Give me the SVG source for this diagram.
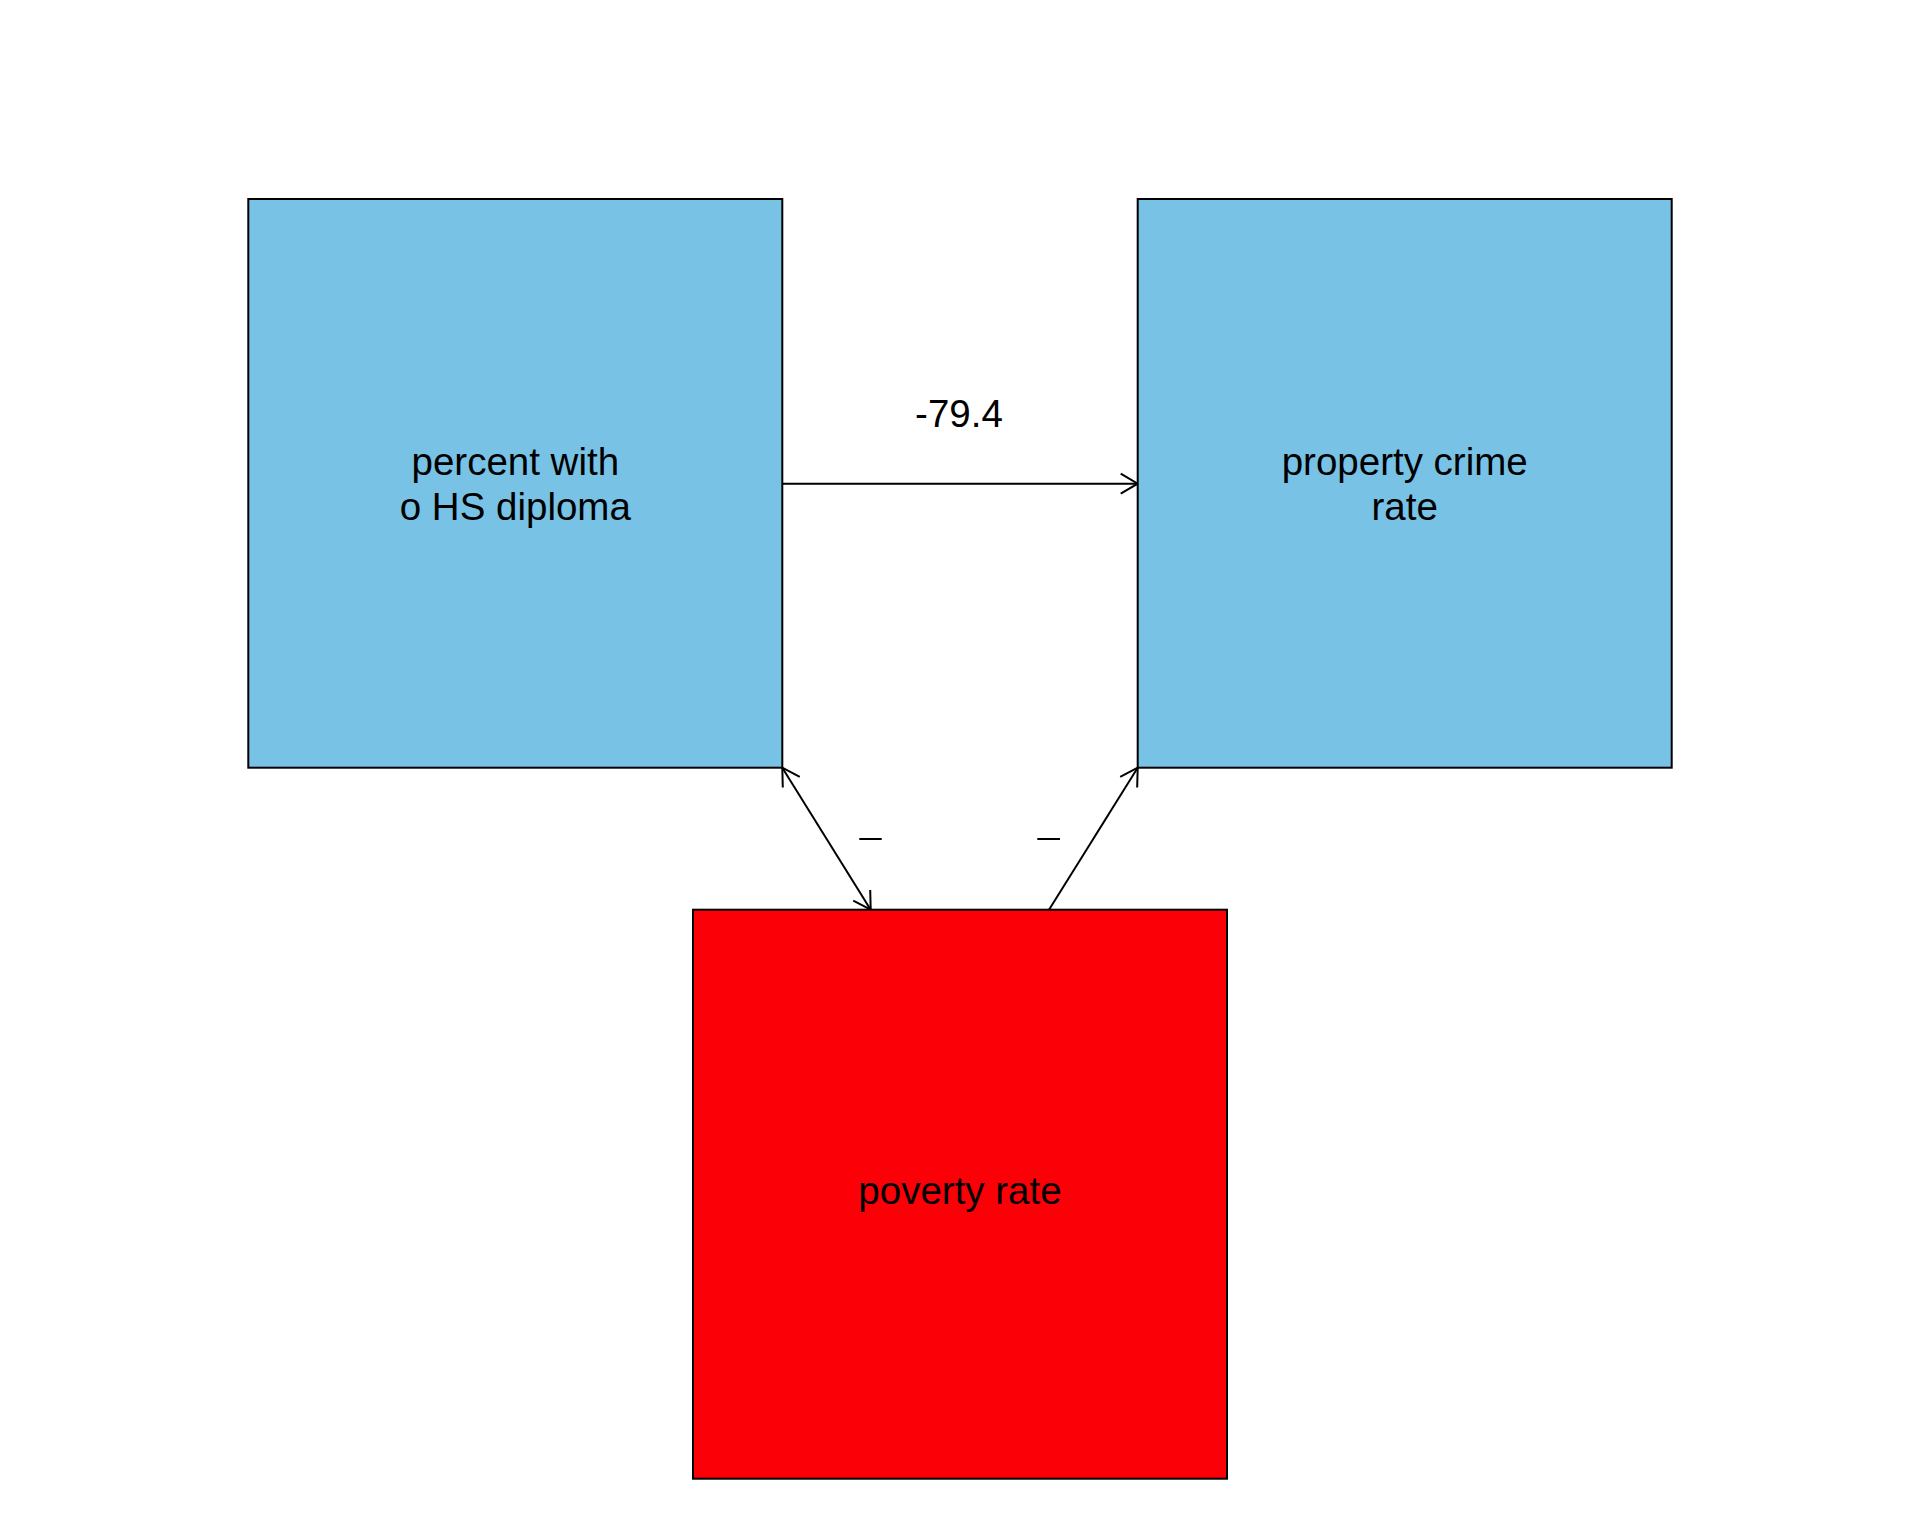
<svg xmlns="http://www.w3.org/2000/svg" width="1920" height="1536" viewBox="0 0 1920 1536">
<style>
.box{stroke:#000;stroke-width:2}
.blue{fill:#78C2E5}
.red{fill:#FC0007}
.lbl{font-family:"Liberation Sans",Arial,sans-serif;font-size:38.5px;fill:#000;text-anchor:middle}
.edge{stroke:#000;stroke-width:2;fill:none}
</style>
<defs>
<marker id="ah" markerUnits="userSpaceOnUse" markerWidth="40" markerHeight="40" viewBox="-20 -20 40 40" refX="0" refY="0" orient="auto-start-reverse">
<path d="M -17,-10 L 0,0 L -17,10" fill="none" stroke="#000" stroke-width="2"/>
</marker>
</defs>
<rect width="1920" height="1536" fill="#fff"/>
<g id="connectors">
<line class="edge" x1="782.3" y1="483.7" x2="1137.7" y2="483.7" marker-end="url(#ah)"/>
<line class="edge" x1="782.3" y1="767.7" x2="870.7" y2="909.7" marker-start="url(#ah)" marker-end="url(#ah)"/>
<line class="edge" x1="1049" y1="909.7" x2="1137.7" y2="767.7" marker-end="url(#ah)"/>
<text class="lbl" x="959" y="427">-79.4</text>
<line class="edge" x1="859.3" y1="839" x2="881.7" y2="839"/>
<line class="edge" x1="1037.3" y1="839" x2="1060" y2="839"/>
</g>
<g id="node-hs">
<rect class="box blue" x="248.3" y="199" width="534" height="568.7"/>
<text class="lbl" x="515.3" y="475">percent with</text>
<text class="lbl" x="515.3" y="520">o HS diploma</text>
</g>
<g id="node-crime">
<rect class="box blue" x="1137.7" y="199" width="534" height="568.7"/>
<text class="lbl" x="1404.7" y="475">property crime</text>
<text class="lbl" x="1404.7" y="520">rate</text>
</g>
<g id="node-poverty">
<rect class="box red" x="693" y="909.7" width="534" height="569"/>
<text class="lbl" x="960" y="1204">poverty rate</text>
</g>
</svg>
